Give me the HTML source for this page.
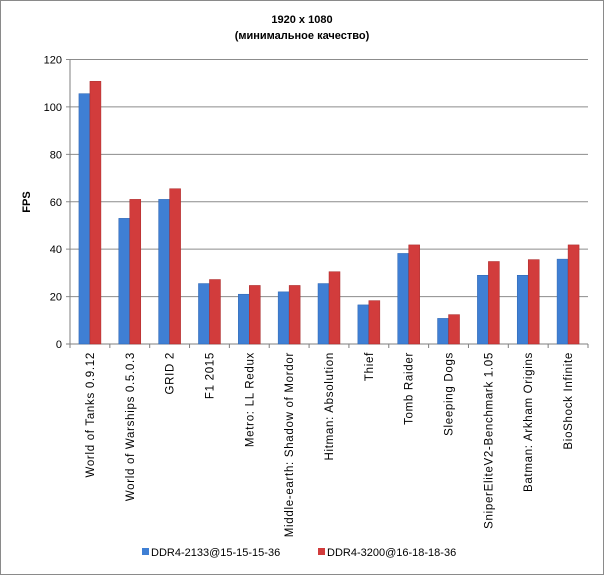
<!DOCTYPE html>
<html><head><meta charset="utf-8"><style>
body{margin:0;background:#fff}
svg{display:block;font-family:"Liberation Sans","DejaVu Sans",sans-serif}
</style></head><body>
<svg id="c" width="604" height="575">
<rect x="0.5" y="0.5" width="603" height="574" fill="#fff" stroke="#8a8a8a"/>
<text x="302" y="23" text-anchor="middle" font-size="11" font-weight="bold">1920 x 1080</text>
<text x="302" y="39" text-anchor="middle" font-size="11" font-weight="bold">(минимальное  качество)</text>
<text x="0" y="0" transform="translate(30,202) rotate(-90)" text-anchor="middle" font-size="11" font-weight="bold">FPS</text>
<g id="grid"></g><g id="bars"></g><g id="labels"></g>
<g>
<rect x="142" y="548" width="7" height="7" fill="#3f7fd4"/>
<text x="151" y="556" font-size="11">DDR4-2133@15-15-15-36</text>
<rect x="318" y="548" width="7" height="7" fill="#d23c3c"/>
<text x="327" y="556" font-size="11">DDR4-3200@16-18-18-36</text>
</g>
</svg>
<script>
const categories=["World of Tanks 0.9.12","World of Warships 0.5.0.3","GRID 2","F1 2015","Metro: LL Redux","Middle-earth: Shadow of Mordor","Hitman: Absolution","Thief","Tomb Raider","Sleeping Dogs","SniperEliteV2-Benchmark 1.05","Batman: Arkham Origins","BioShock Infinite"];
const ddr2133=[105.6,53,61,25.5,21,22,25.5,16.5,38.2,10.8,29,29,35.8];
const ddr3200=[110.8,61,65.5,27.2,24.7,24.7,30.5,18.3,41.8,12.4,34.8,35.6,41.8];
const ticks=[0,20,40,60,80,100,120];
const NS="http://www.w3.org/2000/svg";
const X0=70,X1=588,Y0=344,Y1=59.5,MAX=120;
const y=v=>Y0-(v/MAX)*(Y0-Y1);
const bw=(X1-X0)/categories.length;
const cx=i=>X0+bw*(i+0.5);
function mk(t,a,p){const e=document.createElementNS(NS,t);for(const k in a)e.setAttribute(k,a[k]);p.appendChild(e);return e;}
const g=document.getElementById('grid'),b=document.getElementById('bars'),l=document.getElementById('labels');
ticks.forEach(t=>{
 const ln=mk('line',{x1:X0-4,x2:X1,y1:y(t),y2:y(t),stroke:t===0?'#7f7f7f':'#8c8c8c','stroke-width':1},g);
 
 
 const tx=mk('text',{x:X0-8,y:y(t)+4,'text-anchor':'end','font-size':11},g);
 tx.textContent=t;
 
 
});
const ax=mk('line',{x1:X0,x2:X0,y1:Y1,y2:Y0+4,stroke:'#7f7f7f'},g);


categories.forEach((c,i)=>{
 const c0=cx(i);
 const r1=mk('rect',{x:c0-11,y:y(ddr2133[i]),width:11,height:Y0-y(ddr2133[i]),fill:'#3f7fd4',stroke:'#2d64b0','stroke-width':0.5},b);
 
 
 const r2=mk('rect',{x:c0,y:y(ddr3200[i]),width:11,height:Y0-y(ddr3200[i]),fill:'#d23c3c',stroke:'#a82828','stroke-width':0.5},b);
 
 
 const tk=mk('line',{x1:X0+bw*(i+1),x2:X0+bw*(i+1),y1:Y0,y2:Y0+4,stroke:'#7f7f7f'},g);
 
 
 const t=mk('text',{transform:`translate(${c0+4},352) rotate(-90)`,'text-anchor':'end','font-size':11.5,'letter-spacing':0.7},l);
 t.textContent=c;
 
 
});
</script>
</body></html>
